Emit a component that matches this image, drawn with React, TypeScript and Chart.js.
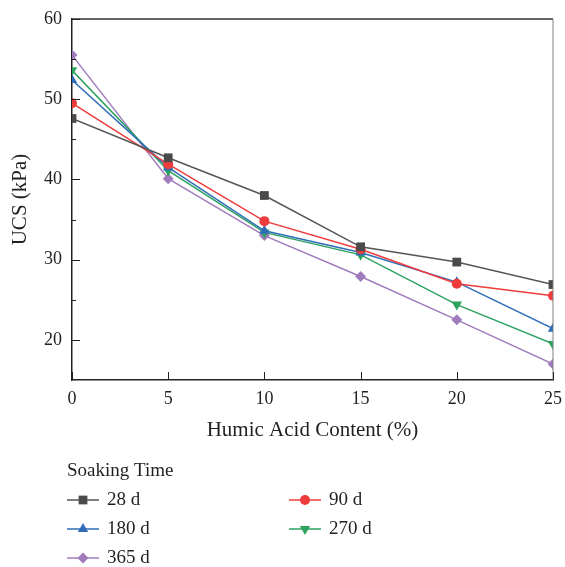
import React, { useEffect, useRef } from "react";
import { Chart, registerables } from "chart.js";

Chart.register(...registerables);

const categories = [0, 5, 10, 15, 20, 25];
const seriesNames = ["28 d", "90 d", "180 d", "270 d", "365 d"];
const s28 = [47.6, 42.7, 38.0, 31.6, 29.7, 26.9];
const s90 = [49.5, 41.9, 34.8, 31.3, 27.0, 25.5];
const s180 = [52.4, 41.5, 33.6, 30.9, 27.2, 21.4];
const s270 = [53.6, 41.1, 33.4, 30.6, 24.4, 19.5];
const s365 = [55.5, 40.1, 33.0, 27.9, 22.5, 17.0];
const yTicks = [20, 30, 40, 50, 60];
const yMinorTicks = [25, 35, 45, 55];
const xTicks = [0, 5, 10, 15, 20, 25];

const FONT = "'Liberation Serif', 'DejaVu Serif', serif";
const TEXT = "#231f20";

type Style = { line: string; fill: string; shape: string; radius: number; rotation: number };
const styles: Style[] = [
  { line: "#555555", fill: "#4a4a4a", shape: "rect", radius: 6.2, rotation: 0 },
  { line: "#ef3b3b", fill: "#ef3b3b", shape: "circle", radius: 5, rotation: 0 },
  { line: "#2f6db8", fill: "#2f6db8", shape: "triangle", radius: 6, rotation: 0 },
  { line: "#2ca25f", fill: "#2ca25f", shape: "triangle", radius: 6, rotation: 180 },
  { line: "#a07cbd", fill: "#a07cbd", shape: "rectRot", radius: 5.5, rotation: 0 },
];

function drawMarker(ctx: CanvasRenderingContext2D, st: Style, x: number, y: number) {
  const r = st.radius;
  ctx.save();
  ctx.fillStyle = st.fill;
  ctx.beginPath();
  if (st.shape === "rect") {
    const s = Math.SQRT1_2 * r;
    ctx.rect(x - s, y - s, 2 * s, 2 * s);
  } else if (st.shape === "circle") {
    ctx.arc(x, y, r, 0, Math.PI * 2);
  } else if (st.shape === "triangle") {
    const dir = st.rotation === 180 ? -1 : 1;
    const w = r * Math.cos(Math.PI / 6);
    ctx.moveTo(x, y - dir * r);
    ctx.lineTo(x - w, y + dir * r * 0.5);
    ctx.lineTo(x + w, y + dir * r * 0.5);
    ctx.closePath();
  } else if (st.shape === "rectRot") {
    ctx.moveTo(x, y - r);
    ctx.lineTo(x + r, y);
    ctx.lineTo(x, y + r);
    ctx.lineTo(x - r, y);
    ctx.closePath();
  }
  ctx.fill();
  ctx.restore();
}

const framePlugin = {
  id: "frame",
  afterDraw(chart: any) {
    const { ctx, chartArea } = chart;
    const { left, right, top, bottom } = chartArea;
    const xs = chart.scales.x;
    const ys = chart.scales.y;
    ctx.save();
    ctx.strokeStyle = "#333333";
    ctx.lineWidth = 1.5;
    ctx.beginPath();
    ctx.moveTo(left, top);
    ctx.lineTo(right, top);
    ctx.stroke();
    ctx.strokeStyle = "#808080";
    ctx.lineWidth = 1;
    ctx.beginPath();
    ctx.moveTo(right, top);
    ctx.lineTo(right, bottom);
    ctx.stroke();
    ctx.strokeStyle = TEXT;
    ctx.lineWidth = 1;
    yTicks.forEach((v) => {
      const y = Math.round(ys.getPixelForValue(v)) + 0.5;
      ctx.beginPath();
      ctx.moveTo(left, y);
      ctx.lineTo(left + 8, y);
      ctx.stroke();
    });
    yMinorTicks.forEach((v) => {
      const y = Math.round(ys.getPixelForValue(v)) + 0.5;
      ctx.beginPath();
      ctx.moveTo(left, y);
      ctx.lineTo(left + 4, y);
      ctx.stroke();
    });
    xTicks.forEach((v) => {
      const x = Math.round(xs.getPixelForValue(v)) + 0.5;
      ctx.beginPath();
      ctx.moveTo(x, bottom);
      ctx.lineTo(x, bottom - 8);
      ctx.stroke();
    });
    ctx.restore();
  },
};

const legendPlugin = {
  id: "customLegend",
  afterDraw(chart: any) {
    const { ctx } = chart;
    ctx.save();
    ctx.font = `19px ${FONT}`;
    ctx.fillStyle = TEXT;
    ctx.textBaseline = "middle";
    ctx.textAlign = "left";
    ctx.fillText("Soaking Time", 67, 471);
    const rowsY = [500, 529, 558];
    const colsX = [67, 289];
    chart.data.datasets.forEach((ds: any, i: number) => {
      const col = i % 2;
      const row = Math.floor(i / 2);
      const x0 = colsX[col];
      const y = rowsY[row];
      const st = styles[i];
      ctx.strokeStyle = st.line;
      ctx.lineWidth = 1.5;
      ctx.beginPath();
      ctx.moveTo(x0, y);
      ctx.lineTo(x0 + 32, y);
      ctx.stroke();
      drawMarker(ctx, st, x0 + 16, y);
      ctx.fillStyle = TEXT;
      ctx.fillText(ds.label, x0 + 40, y);
    });
    ctx.restore();
  },
};

export default function App() {
  const ref = useRef<HTMLCanvasElement>(null);
  useEffect(() => {
    if (!ref.current) return;
    const all = [s28, s90, s180, s270, s365];
    const chart = new Chart(ref.current, {
      type: "line",
      data: {
        datasets: all.map((vals, i) => ({
          label: seriesNames[i],
          data: categories.map((c, j) => ({ x: c, y: vals[j] })),
          borderColor: styles[i].line,
          backgroundColor: styles[i].fill,
          pointBackgroundColor: styles[i].fill,
          pointBorderColor: styles[i].fill,
          pointBorderWidth: 0,
          pointStyle: styles[i].shape as any,
          pointRadius: styles[i].radius,
          pointRotation: styles[i].rotation,
          borderWidth: 1.5,
          tension: 0,
          fill: false,
        })),
      },
      options: {
        animation: false,
        responsive: false,
        devicePixelRatio: 1,
        layout: { padding: { left: 8, right: 12, top: 19, bottom: 124 } },
        plugins: { legend: { display: false }, tooltip: { enabled: false } },
        scales: {
          x: {
            type: "linear",
            min: 0,
            max: 25,
            afterBuildTicks: (s: any) => {
              s.ticks = xTicks.map((v) => ({ value: v }));
            },
            afterFit: (s: any) => {
              s.height = 63;
              s.paddingLeft = 0;
              s.paddingRight = 0;
            },
            grid: { display: false, drawTicks: false },
            border: { display: true, color: TEXT, width: 1.5 },
            ticks: { color: TEXT, font: { family: FONT, size: 18 }, padding: 8, maxRotation: 0 },
            title: {
              display: true,
              text: "Humic Acid Content (%)",
              color: TEXT,
              font: { family: FONT, size: 21 },
              padding: 0,
            },
          },
          y: {
            type: "linear",
            min: 15,
            max: 60,
            afterBuildTicks: (s: any) => {
              s.ticks = yTicks.map((v) => ({ value: v }));
            },
            afterFit: (s: any) => {
              s.width = 64;
              s.paddingTop = 0;
              s.paddingBottom = 0;
            },
            grid: { display: false, drawTicks: false },
            border: { display: true, color: TEXT, width: 1.5 },
            ticks: { color: TEXT, font: { family: FONT, size: 18 }, padding: 10 },
            title: {
              display: true,
              text: "UCS (kPa)",
              color: TEXT,
              font: { family: FONT, size: 21 },
              padding: 0,
            },
          },
        },
      },
      plugins: [framePlugin, legendPlugin],
    });
    return () => chart.destroy();
  }, []);
  return (
    <div style={{ position: "fixed", left: 0, top: 0, width: 565, height: 567, background: "#fff" }}>
      <canvas ref={ref} width={565} height={567} style={{ width: 565, height: 567, display: "block" }} />
    </div>
  );
}
